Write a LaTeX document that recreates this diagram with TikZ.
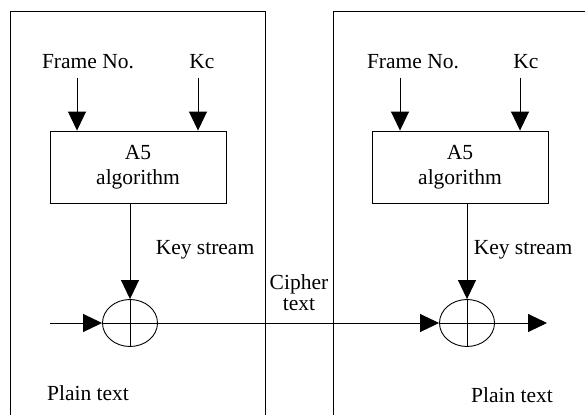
\documentclass[tikz,border=0pt]{standalone}
\usepackage{fontspec}
\setmainfont{Liberation Serif}
\usetikzlibrary{arrows.meta,shapes.geometric}
\begin{document}
\begin{tikzpicture}[x=1pt,y=-1pt,line width=0.9pt,
	font=\fontsize{21.5}{25}\selectfont,
	tip/.style={-{Triangle[length=19pt,width=18pt]}},
	algbox/.style={draw,minimum width=176pt,minimum height=72pt,align=center,inner sep=0pt},
	xorsym/.style={draw,ellipse,minimum width=55pt,minimum height=47pt,inner sep=0pt}]
	\useasboundingbox (0,0) rectangle (585,415);

	% the two ends
	\draw (10,415) -- (10,11) -- (265,11) -- (265,415);
	\draw (333,415) -- (333,11) -- (585,11);

	\node (fn1) at (88,62) {Frame No.};
	\node (kc1) at (202,62) {Kc};
	\node[algbox] (a51) at (138,167) {A5\\algorithm};
	\node[xorsym] (x1) at (130,323) {};
	\node (ks1) at (205,250) {Key stream};
	\node (pt1) at (88,393) {Plain text};

	\node (fn2) at (413,62) {Frame No.};
	\node (kc2) at (526,62) {Kc};
	\node[algbox] (a52) at (460,167) {A5\\algorithm};
	\node[xorsym] (x2) at (467,323) {};
	\node (ks2) at (523,250) {Key stream};
	\node (pt2) at (512,395) {Plain text};

	\node[align=center,inner sep=1pt] (ct) at (299,293) {Cipher\\[-4pt]text};

	\coordinate (in) at (50,323);
	\coordinate (out) at (547,323);

	\draw[tip,shorten <=5pt] ([xshift=-11pt]fn1.south) -- ([xshift=-11pt]fn1.south |- a51.north);
	\draw[tip,shorten <=5pt] ([xshift=-4pt]kc1.south) -- ([xshift=-4pt]kc1.south |- a51.north);
	\draw[tip,shorten <=5pt] ([xshift=-13pt]fn2.south) -- ([xshift=-13pt]fn2.south |- a52.north);
	\draw[tip,shorten <=5pt] ([xshift=-6pt]kc2.south) -- ([xshift=-6pt]kc2.south |- a52.north);

	\draw[tip] (x1.north |- a51.south) -- (x1.north);
	\draw[tip] (x2.north |- a52.south) -- (x2.north);

	\draw[tip] (in) -- (x1.west);
	\draw[tip] (x1.east) -- (x2.west);
	\draw[tip] (x2.east) -- (out);

	% crosses in the adders
	\draw (x1.north) -- (x1.south) (x1.west) -- (x1.east);
	\draw (x2.north) -- (x2.south) (x2.west) -- (x2.east);
\end{tikzpicture}
\end{document}
